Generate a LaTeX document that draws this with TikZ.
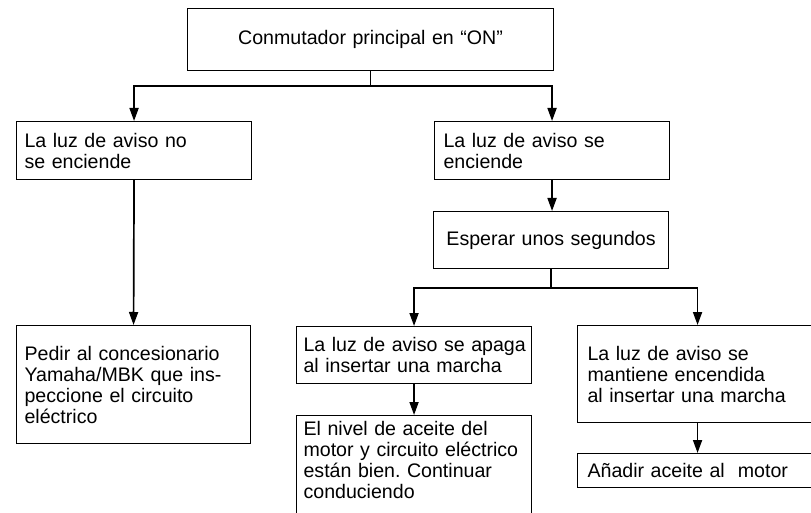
\documentclass[tikz,border=0pt]{standalone}
\usepackage{fontspec}
\setmainfont{Liberation Sans}
\usetikzlibrary{arrows.meta}
\newcommand\Lm[1]{\mbox{#1}}
\frenchspacing
\begin{document}
\begin{tikzpicture}[x=1pt,y=-1pt,
  box/.style={draw, line width=1.1pt, anchor=north west, inner xsep=8pt, inner ysep=0pt,
    align=left, font=\fontsize{19.6}{21}\selectfont\frenchspacing},
  conn/.style={line width=1.7pt},
  arr/.style={line width=1.7pt, -{Triangle[length=13pt,width=9pt]}}]
\useasboundingbox (0,0) rectangle (811,513);
\clip (0,0) rectangle (811,513);
\fill[white] (0,0) rectangle (811,513);

\node[box, align=center, minimum width=366pt, minimum height=62pt, text width=350pt] (top) at (187,8)
  {Conmutador principal en “ON”};
\node[box, minimum width=235pt, minimum height=58pt, text width=219pt] (l1) at (16,121)
  {\Lm{La luz de aviso no}\\\Lm{se enciende}};
\node[box, inner xsep=9pt, minimum width=235pt, minimum height=58pt, text width=217pt] (r1) at (434,121)
  {\Lm{La luz de aviso se}\\\Lm{enciende}};
\node[box, minimum width=234pt, minimum height=118pt, text width=218pt] (l2) at (16,325)
  {\Lm{Pedir al concesionario}\\\Lm{Yamaha/MBK que ins-}\\\Lm{peccione el circuito}\\\Lm{eléctrico}};
\node[box, align=center, minimum width=235pt, minimum height=57pt, text width=219pt] (esp) at (433,211)
  {\Lm{Esperar unos segundos}};
\node[box, inner xsep=7pt, minimum width=235pt, minimum height=57pt, text width=221pt] (apaga) at (296,326)
  {\Lm{La luz de aviso se apaga}\\\Lm{al insertar una marcha}};
\node[box, inner xsep=7pt, minimum width=235pt, minimum height=110pt, text width=221pt] (nivel) at (296,415)
  {\Lm{El nivel de aceite del}\\\Lm{motor y circuito eléctrico}\\\Lm{están bien. Continuar}\\\Lm{conduciendo}\\\mbox{}};
\node[box, inner xsep=10pt, minimum width=240pt, minimum height=97pt, text width=220pt] (mant) at (577,325)
  {\Lm{La luz de aviso se}\\\Lm{mantiene encendida}\\\Lm{al insertar una marcha}};
\node[box, inner xsep=10pt, minimum width=240pt, minimum height=34pt, text width=220pt] (anadir) at (577,453)
  {\Lm{Añadir aceite al\ \ motor}};

\draw[conn] (top.south) -- ++(0,15) coordinate (j1);
\draw[arr] (j1) -| (l1.north);
\draw[arr] (j1) -| (r1.north);
\draw[arr] (l1.south) -- (l2.north);
\draw[arr] (r1.south) -- (r1.south |- esp.north);
\draw[conn] (esp.south) -- ++(0,19) coordinate (j2);
\draw[arr] (j2) -| (apaga.north);
\draw[arr] (j2) -| (mant.north);
\draw[arr] (apaga.south) -- (nivel.north);
\draw[arr] (mant.south) -- (anadir.north);
\end{tikzpicture}
\end{document}
